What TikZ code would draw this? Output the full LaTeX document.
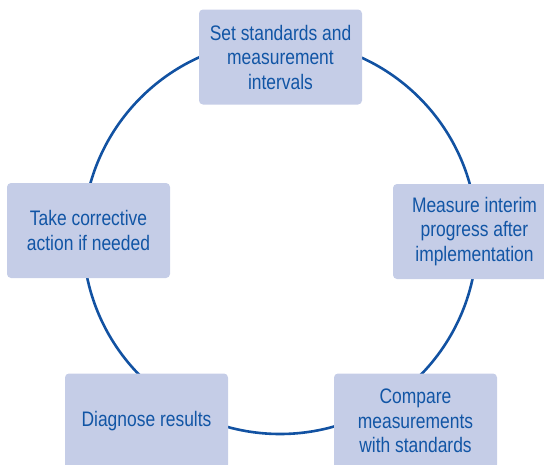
\documentclass[tikz,border=0pt]{standalone}
\usepackage{fontspec}
\setmainfont{Liberation Sans}[FakeStretch=0.83]
\definecolor{boxfill}{RGB}{197,205,231}
\definecolor{ink}{RGB}{17,85,165}
\definecolor{ring}{RGB}{18,82,162}
\tikzset{
  stage/.style={fill=boxfill, rounded corners=4pt, minimum width=163pt, minimum height=95pt,
    inner sep=0pt, align=center, text=ink,
    font=\fontsize{21pt}{24.5pt}\selectfont},
}
\begin{document}
\begin{tikzpicture}[x=1pt,y=-1pt]
\useasboundingbox (0,0) rectangle (544,464);
\clip (0,0) rectangle (544,464);
\coordinate (c) at (280,237);
\draw[ring, line width=2.6pt] (c) circle (197pt);
\node[stage] (s1) at (280.5,57) {Set standards and\\measurement\\intervals};
\node[stage] (s2) at (474.5,231.5) {Measure interim\\progress after\\implementation};
\node[stage] (s3) at (415.5,421) {Compare\\measurements\\with standards};
\node[stage] (s4) at (146.5,421) {Diagnose results};
\node[stage] (s5) at (88.5,230.5) {Take corrective\\action if needed};
\end{tikzpicture}
\end{document}
